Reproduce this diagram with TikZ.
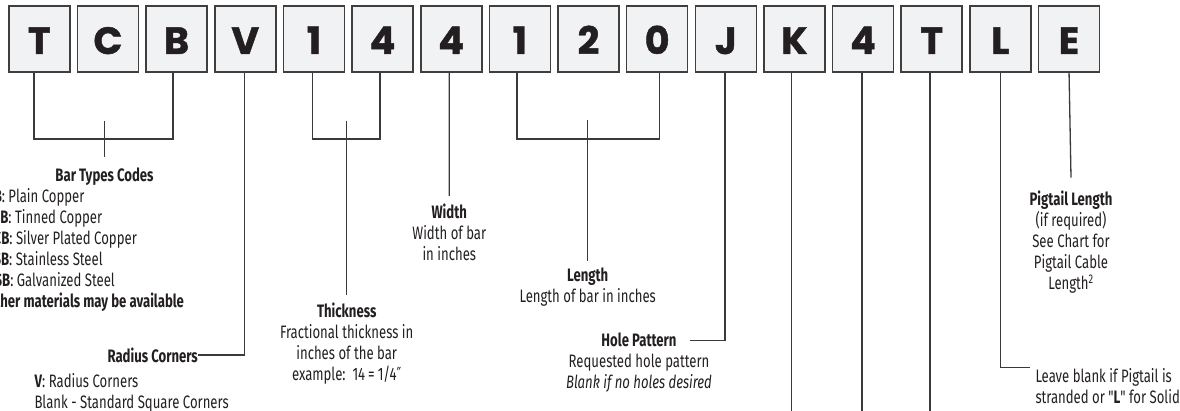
\documentclass[tikz,border=0pt]{standalone}
\usepackage{fontspec}
\setmainfont{Fira Sans}
\newfontfamily\labfont[FakeStretch=0.73]{Fira Sans}
\newfontfamily\codefont[BoldFeatures={FakeBold=1.2}]{Poppins}
\newfontfamily\symfont[FakeStretch=0.7]{DejaVu Sans}
\definecolor{boxfill}{HTML}{F1F2F4}
\definecolor{boxline}{HTML}{3F3F3F}
\definecolor{wire}{HTML}{3A3A3A}
\definecolor{ink}{HTML}{231F20}
\begin{document}
\begin{tikzpicture}[x=1pt,y=-1pt,
  codebox/.style={draw=boxline, fill=boxfill, line width=1.6pt, minimum width=61pt,
    minimum height=65.8pt, inner sep=0pt, text height=30pt, text depth=0pt,
    font=\codefont\bfseries\fontsize{38}{38}\selectfont, text=ink},
  conn/.style={draw=wire, line width=1.3pt},
  lbl/.style={font=\labfont\fontsize{18}{21}\selectfont, text=ink, inner sep=0pt, align=center},
  lbll/.style={lbl, align=left},
]
\useasboundingbox (0,0) rectangle (1180,411);
\clip (0,0) rectangle (1180,411);

% code boxes
\foreach \ch [count=\i from 0] in {T,C,B,V,1,4,4,1,2,0,J,K,4,T,L,E}
  \node[codebox] (b\i) at ({39.3+68.65*\i},39) {\ch};

% labels
\node[lbl, anchor=north] (bt) at (104.5,167.4) {\textbf{Bar Types Codes}};
\node[lbll, anchor=north west] (btlist) at (-14,188.1)
  {\textbf{CB}: Plain Copper\\ \textbf{TCB}: Tinned Copper\\ \textbf{SCB}: Silver Plated Copper\\
   \textbf{SSB}: Stainless Steel\\ \textbf{GSB}: Galvanized Steel\\ \textbf{Other materials may be available}};
\node[lbl, anchor=east] (rad) at (198,355) {\textbf{Radius Corners}};
\node[lbll, anchor=north west] (radlist) at (34.3,373.1)
  {\textbf{V}: Radius Corners\\ Blank - Standard Square Corners};
\node[lbl, anchor=north] (thk) at (346.7,303.1)
  {\textbf{Thickness}\\ Fractional thickness in\\ inches of the bar\\ example:\ \ 14\,=\,1/4{\symfont ″}};
\node[lbl, anchor=north] (wid) at (449.3,204.1) {\textbf{Width}\\ Width of bar\\ in inches};
\node[lbl, anchor=north] (len) at (587.7,267.4) {\textbf{Length}\\ Length of bar in inches};
\node[lbl, anchor=north] (hole) at (639,332.4)
  {\textbf{Hole Pattern}\\ Requested hole pattern\\ \textit{Blank if no holes desired}};
\node[lbl, anchor=north] (pig) at (1071,190.7)
  {\textbf{Pigtail Length}\\ (if required)\\ See Chart for\\ Pigtail Cable\\ Length\textsuperscript{2}};
\node[lbll, anchor=north west] (leave) at (1035.3,368.4)
  {Leave blank if Pigtail is\\ stranded or "\textbf{L}" for Solid};

\coordinate (holeend) at (690,340.7);
\coordinate (leaveend) at (1030,367.3);

% connectors
\draw[conn] ([xshift=-5.3pt]b0.south) |- (104.5,139) -| ([xshift=-3.6pt]b2.south);
\draw[conn] ([yshift=46.4pt]bt.north) -- ([yshift=10.4pt]bt.north);
\draw[conn] ([xshift=-1pt]b3.south) |- (rad.east);
\draw[conn] ([xshift=-1.6pt]b4.south) |- (346.7,139) -| ([xshift=-2.5pt]b5.south);
\draw[conn] ([yshift=182.1pt]thk.north) -- ([yshift=8.1pt]thk.north);
\draw[conn] ([xshift=-1.9pt]b6.south) -- ([yshift=8.1pt]wid.north);
\draw[conn] ([xshift=-3pt]b7.south) |- (587.7,139) -| ([xshift=2pt]b9.south);
\draw[conn] ([yshift=147.4pt]len.north) -- ([yshift=6.4pt]len.north);
\draw[conn] ([xshift=-0.8pt]b10.south) |- (holeend);
\draw[conn] ([xshift=-2.7pt]b11.south) -- ++(0,340);
\draw[conn] ([xshift=-1pt]b12.south) -- ++(0,340);
\draw[conn] ([xshift=-1.7pt]b13.south) -- ++(0,340);
\draw[conn] (b14.south) |- (leaveend);
\draw[conn] (b15.south) -- ([yshift=13pt]pig.north);
\end{tikzpicture}
\end{document}
